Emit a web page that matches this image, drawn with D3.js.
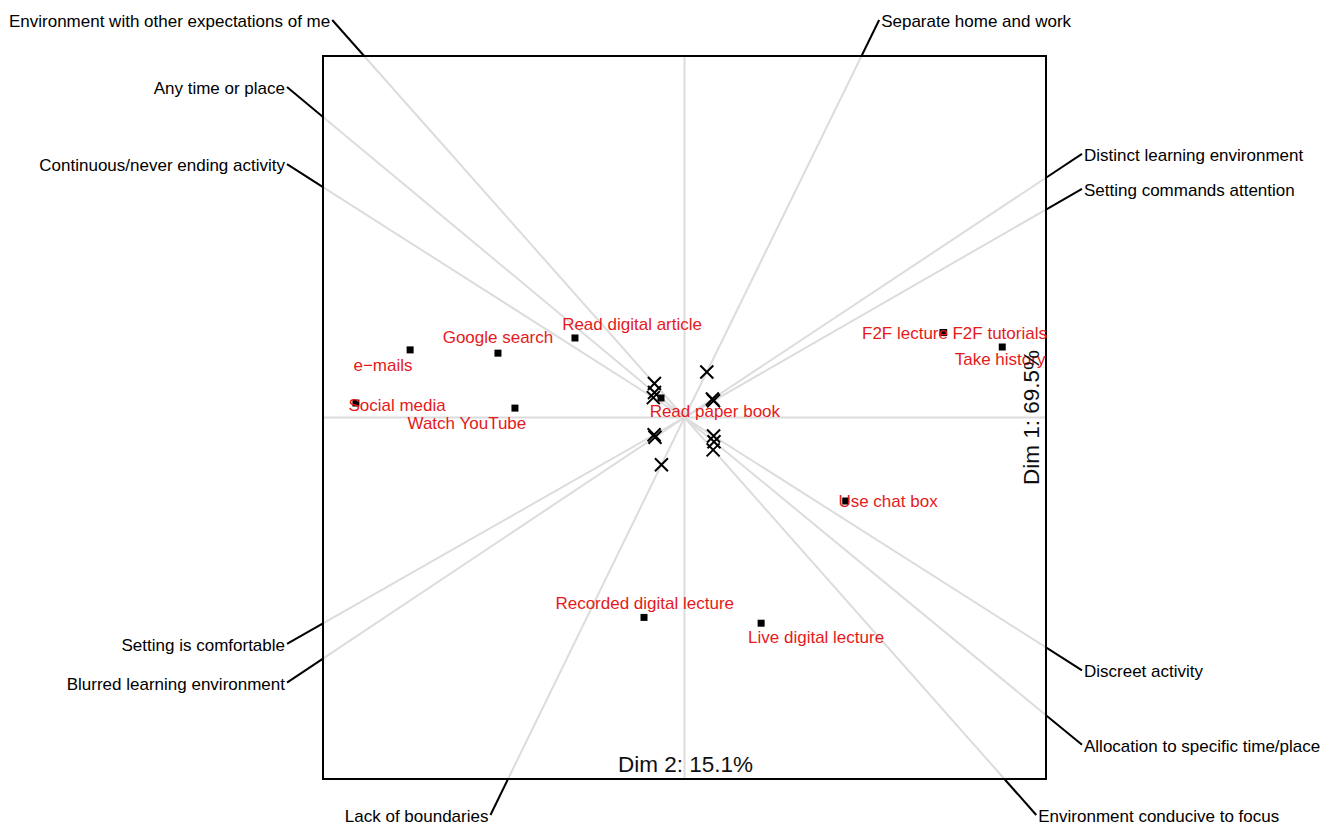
<!DOCTYPE html>
<html>
<head>
<meta charset="utf-8">
<script src="https://cdn.jsdelivr.net/npm/d3@7"></script>
<style>
  body { margin: 0; background: #fff; }
  text { font-family: "Liberation Sans", Arial, Helvetica, sans-serif; }
</style>
</head>
<body>
<div id="chart"></div>
<script>
// row points (activities) -------
const rowNames = ['e\u2212mails', 'Google search', 'Read digital article', 'Social media', 'Watch YouTube',
  'Read paper book', 'F2F lecture', 'F2F tutorials', 'Take history', 'Use chat box',
  'Recorded digital lecture', 'Live digital lecture'];
const rowDim2 = [-0.759, -0.516, -0.303, -0.909, -0.469, -0.065, 0.715, 0.717, 0.879, 0.446, -0.112, 0.212];
const rowDim1 = [0.187, 0.178, 0.220, 0.040, 0.026, 0.054, 0.235, 0.235, 0.195, -0.231, -0.553, -0.569];
// where the repelled labels ended up
const rowLabelDim2 = [-0.834, -0.516, -0.145, -0.795, -0.602, 0.084, 0.610, 0.872, 0.873, 0.563, -0.110, 0.364];
const rowLabelDim1 = [0.147, 0.223, 0.261, 0.035, -0.013, 0.018, 0.234, 0.234, 0.162, -0.230, -0.513, -0.605];

// column points (descriptions) -------
const colNames = ['Environment with other expectations of me', 'Separate home and work', 'Any time or place',
  'Continuous/never ending activity', 'Distinct learning environment', 'Setting commands attention',
  'Setting is comfortable', 'Blurred learning environment', 'Lack of boundaries', 'Discreet activity',
  'Allocation to specific time/place', 'Environment conducive to focus'];
const colDim2 = [-0.0833, 0.0617, -0.0830, -0.0863, 0.0772, 0.0803, -0.0841, -0.0817, -0.0638, 0.0805, 0.0816, 0.0792];
const colDim1 = [0.0940, 0.1260, 0.0690, 0.0550, 0.0512, 0.0462, -0.0479, -0.0545, -0.1307, -0.0512, -0.0672, -0.0895];

const dimLabels = ['Dim 1: 69.5%', 'Dim 2: 15.1%'];

const width = 1334, height = 825;
const box = { left: 323, right: 1046, top: 56, bottom: 779 };
const red = '#e41a1c';
const grey = '#dcdcdc';

const x = d3.scaleLinear().domain([-1, 1]).range([box.left, box.right]);
const y = d3.scaleLinear().domain([-1, 1]).range([box.bottom, box.top]);

const svg = d3.select('#chart').append('svg')
  .attr('width', width)
  .attr('height', height)
  .attr('viewBox', [0, 0, width, height]);

// axes through the origin
svg.append('line')
  .attr('x1', x(0)).attr('x2', x(0)).attr('y1', box.top).attr('y2', box.bottom)
  .attr('stroke', grey).attr('stroke-width', 2);
svg.append('line')
  .attr('x1', box.left).attr('x2', box.right).attr('y1', y(0)).attr('y2', y(0))
  .attr('stroke', grey).attr('stroke-width', 2);

// build the rays: from origin through each column point out to the box, then a leader
const ext = 36;
const cols = colNames.map((name, i) => {
  const ox = x(0), oy = y(0);
  const dx = x(colDim2[i]) - ox, dy = y(colDim1[i]) - oy;
  const tx = dx > 0 ? (box.right - ox) / dx : (box.left - ox) / dx;
  const ty = dy > 0 ? (box.bottom - oy) / dy : (box.top - oy) / dy;
  const t = Math.min(tx, ty);
  const ex = ox + dx * t, ey = oy + dy * t;
  // leader goes a fixed distance away from the edge it crosses
  const k = tx < ty ? ext / Math.abs(dx) : ext / Math.abs(dy);
  return { name, ox, oy, ex, ey, lx: ex + dx * k, ly: ey + dy * k, left: dx < 0 };
});

svg.append('g').selectAll('line').data(cols).join('line')
  .attr('x1', (d) => d.ox).attr('y1', (d) => d.oy)
  .attr('x2', (d) => d.ex).attr('y2', (d) => d.ey)
  .attr('stroke', grey).attr('stroke-width', 2);

svg.append('g').selectAll('line').data(cols).join('line')
  .attr('x1', (d) => d.ex).attr('y1', (d) => d.ey)
  .attr('x2', (d) => d.lx).attr('y2', (d) => d.ly)
  .attr('stroke', '#000').attr('stroke-width', 2);

svg.append('g').selectAll('text').data(cols).join('text')
  .attr('x', (d) => d.lx + (d.left ? -2 : 2))
  .attr('y', (d) => d.ly + 2.5)
  .attr('text-anchor', (d) => (d.left ? 'end' : 'start'))
  .attr('dominant-baseline', 'middle')
  .attr('font-size', 17)
  .attr('fill', '#000')
  .text((d) => d.name);

// frame
svg.append('rect')
  .attr('x', box.left).attr('y', box.top)
  .attr('width', box.right - box.left).attr('height', box.bottom - box.top)
  .attr('fill', 'none').attr('stroke', '#000').attr('stroke-width', 2);

// column markers
const xs = 6.5;
svg.append('g').selectAll('path').data(colNames).join('path')
  .attr('d', (d, i) => {
    const px = x(colDim2[i]), py = y(colDim1[i]);
    return `M${px - xs},${py - xs}L${px + xs},${py + xs}M${px - xs},${py + xs}L${px + xs},${py - xs}`;
  })
  .attr('stroke', '#000').attr('stroke-width', 2).attr('fill', 'none');

// row markers
svg.append('g').selectAll('rect').data(rowNames).join('rect')
  .attr('x', (d, i) => x(rowDim2[i]) - 3.5)
  .attr('y', (d, i) => y(rowDim1[i]) - 3.5)
  .attr('width', 7).attr('height', 7)
  .attr('fill', '#000');

svg.append('g').selectAll('text').data(rowNames).join('text')
  .attr('x', (d, i) => x(rowLabelDim2[i]))
  .attr('y', (d, i) => y(rowLabelDim1[i]) + 2)
  .attr('text-anchor', 'middle')
  .attr('dominant-baseline', 'middle')
  .attr('font-size', 17)
  .attr('fill', red)
  .text((d) => d);

// dimension labels
svg.append('text')
  .attr('transform', `translate(${box.right - 7},${y(0)}) rotate(-90)`)
  .attr('text-anchor', 'middle')
  .attr('font-size', 22.5)
  .attr('fill', '#111')
  .text(dimLabels[0]);

svg.append('text')
  .attr('x', x(0) + 1)
  .attr('y', box.bottom - 7)
  .attr('text-anchor', 'middle')
  .attr('font-size', 22.5)
  .attr('fill', '#111')
  .text(dimLabels[1]);
</script>
</body>
</html>
